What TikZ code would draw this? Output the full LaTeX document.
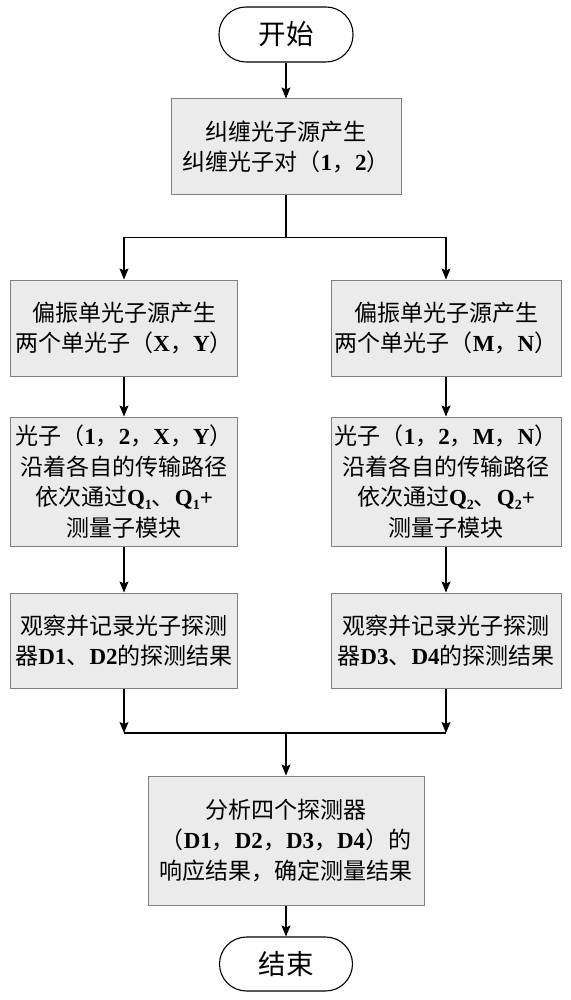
\documentclass[tikz,border=0pt]{standalone}
\usepackage{fontspec}
\setmainfont{Liberation Serif}
\newfontfamily\cjk{Noto Sans CJK SC}
\newfontfamily\latb{Liberation Serif Bold}
\newcommand\B[1]{{\latb #1}}
\newcommand\Bs[1]{{\latb\raisebox{-0.15em}{\fontsize{14pt}{14pt}\selectfont #1}}}
\usetikzlibrary{arrows.meta}
\begin{document}
\begin{tikzpicture}[x=1pt,y=-1pt,
  txt/.style={font=\fontsize{23pt}{30.5pt}\selectfont\cjk, align=center, inner sep=0pt},
  procbox/.style={txt, draw=black!50, fill=black!8, line width=1pt},
  term/.style={txt, font=\fontsize{27.5pt}{30pt}\selectfont\cjk, draw=black, fill=white, line width=1.1pt, rounded corners=27pt,
               minimum width=134pt, minimum height=55pt},
  arr/.style={-{Stealth[length=11pt,width=9pt,inset=2pt]}, line width=1.1pt},
  ln/.style={line width=1.1pt}]
\useasboundingbox (0,0) rectangle (570,1000);
\fill[white] (0,0) rectangle (570,1000);

\node[term] (start) at (286,34.5) {开始};
\node[procbox, minimum width=230pt, minimum height=96pt] (b1) at (286,147)
  {纠缠光子源产生\\纠缠光子对（\B{1}，\B{2}）};
\node[procbox, minimum width=227pt, minimum height=96pt] (al) at (124,328)
  {偏振单光子源产生\\两个单光子（\B{X}，\B{Y}）};
\node[procbox, minimum width=230pt, minimum height=96pt] (ar) at (446,328)
  {偏振单光子源产生\\两个单光子（\B{M}，\B{N}）};
\node[procbox, minimum width=227pt, minimum height=129pt] (cl) at (124,481.5)
  {光子（\B{1}，\B{2}，\B{X}，\B{Y}）\\沿着各自的传输路径\\依次通过\B{Q}\Bs{1}、\B{Q}\Bs{1}\B{+}\\测量子模块};
\node[procbox, minimum width=230pt, minimum height=129pt] (cr) at (446,481.5)
  {光子（\B{1}，\B{2}，\B{M}，\B{N}）\\沿着各自的传输路径\\依次通过\B{Q}\Bs{2}、\B{Q}\Bs{2}\B{+}\\测量子模块};
\node[procbox, minimum width=227pt, minimum height=95pt] (dl) at (124,640.5)
  {观察并记录光子探测\\器\B{D1}、\B{D2}的探测结果};
\node[procbox, minimum width=230pt, minimum height=95pt] (dr) at (446,640.5)
  {观察并记录光子探测\\器\B{D3}、\B{D4}的探测结果};
\node[procbox, minimum width=276pt, minimum height=129pt] (e) at (286,840.5)
  {分析四个探测器\\（\B{D1}，\B{D2}，\B{D3}，\B{D4}）的\\响应结果，确定测量结果};
\node[term, minimum width=133pt, minimum height=54pt] (end) at (286,964) {结束};

\coordinate (j1) at (286,237.5);
\coordinate (m) at (286,733);

\draw[arr] (start.south) -- (b1.north);
\draw[ln] (b1.south) -- (j1);
\draw[arr] (j1) -| (al.north);
\draw[arr] (j1) -| (ar.north);
\draw[arr] (al.south) -- (cl.north);
\draw[arr] (ar.south) -- (cr.north);
\draw[arr] (cl.south) -- (dl.north);
\draw[arr] (cr.south) -- (dr.north);
\draw[arr] (dl.south) -- (dl.south |- m);
\draw[arr] (dr.south) -- (dr.south |- m);
\draw[ln] (dl.south |- m) -- (dr.south |- m);
\draw[arr] (m) -- (e.north);
\draw[arr] (e.south) -- (end.north);
\end{tikzpicture}
\end{document}
